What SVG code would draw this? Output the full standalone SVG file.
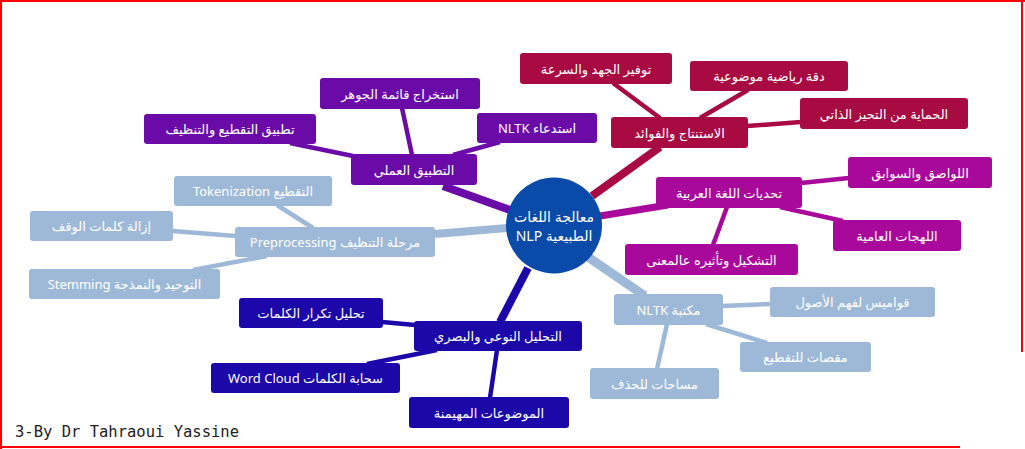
<svg xmlns="http://www.w3.org/2000/svg" width="1025" height="449" viewBox="0 0 1025 449">
<style>
.t{font-family:"Noto Sans","DejaVu Sans",sans-serif;font-size:13px;fill:#ffffff;text-anchor:middle;dominant-baseline:central;direction:rtl;unicode-bidi:embed}
.ct{font-family:"Noto Sans","DejaVu Sans",sans-serif;font-size:14px;fill:#ffffff;text-anchor:middle;dominant-baseline:central;direction:rtl;unicode-bidi:embed}
.pu{fill:#6A0BA8}.cr{fill:#A80A42}.ma{fill:#A9099A}.lb{fill:#9DB9D7}.db{fill:#1C08A8}
.lpu{stroke:#6A0BA8}.lcr{stroke:#A80A42}.lma{stroke:#A9099A}.llb{stroke:#9DB9D7}.ldb{stroke:#1C08A8}
.m{stroke-width:8;stroke-linecap:butt;fill:none}
.c{stroke-width:4.5;stroke-linecap:butt;fill:none}
.foot{font-family:"DejaVu Sans Mono","Liberation Mono",monospace;font-size:15.5px;fill:#222222}
</style>
<rect x="0" y="0" width="1025" height="449" fill="#ffffff"/>
<g id="frame" fill="#ff0000">
<rect x="0" y="0" width="1025" height="2"/>
<rect x="0" y="0" width="2" height="449"/>
<rect x="1021" y="0" width="2" height="352"/>
<rect x="0" y="446" width="960" height="2"/>
</g>
<g id="connectors">
<line class="m lpu" x1="443" y1="186" x2="510" y2="210"/>
<line class="m lcr" x1="592" y1="196" x2="660" y2="147"/>
<line class="m lma" x1="600" y1="216" x2="668" y2="205" style="stroke-width:7"/>
<line class="m llb" x1="588" y1="257" x2="645" y2="296" style="stroke-width:9"/>
<line class="m llb" x1="435" y1="234" x2="507" y2="228"/>
<line class="m ldb" x1="528" y1="268" x2="500" y2="322"/>
<line class="c lpu" x1="412" y1="155" x2="402" y2="108"/>
<line class="c lpu" x1="353" y1="156" x2="290" y2="143"/>
<line class="c lpu" x1="453" y1="155" x2="500" y2="142"/>
<line class="c lcr" x1="660" y1="118" x2="613" y2="83"/>
<line class="c lcr" x1="700" y1="118" x2="748" y2="90"/>
<line class="c lcr" x1="747" y1="126" x2="801" y2="122"/>
<line class="c lma" x1="801" y1="183" x2="849" y2="178"/>
<line class="c lma" x1="780" y1="207" x2="843" y2="221"/>
<line class="c lma" x1="727" y1="207" x2="713" y2="245"/>
<line class="c llb" x1="722" y1="306" x2="771" y2="304"/>
<line class="c llb" x1="706" y1="324" x2="767" y2="343"/>
<line class="c llb" x1="667" y1="324" x2="657" y2="369"/>
<line class="c llb" x1="313" y1="228" x2="277" y2="205"/>
<line class="c llb" x1="172" y1="231" x2="236" y2="236"/>
<line class="c llb" x1="267" y1="256" x2="193" y2="270"/>
<line class="c ldb" x1="382" y1="322" x2="415" y2="325"/>
<line class="c ldb" x1="437" y1="350" x2="367" y2="364"/>
<line class="c ldb" x1="497" y1="350" x2="490" y2="398"/>
</g>
<g id="center">
<circle cx="554" cy="225.5" r="48" fill="#0A4AA8"/>
<text class="ct" x="554" y="216">معالجة اللغات</text>
<text class="ct" x="554" y="235">الطبيعية NLP</text>
</g>
<g id="n-practical"><rect class="pu" x="351" y="154" width="126" height="31" rx="3"/><text class="t" x="414" y="170">التطبيق العملي</text></g>
<g id="n-extract"><rect class="pu" x="320" y="78" width="160" height="31" rx="3"/><text class="t" x="400" y="94">استخراج قائمة الجوهر</text></g>
<g id="n-apply"><rect class="pu" x="144" y="114" width="172" height="30" rx="3"/><text class="t" x="230" y="129">تطبيق التقطيع والتنظيف</text></g>
<g id="n-import"><rect class="pu" x="477" y="113" width="120" height="30" rx="3"/><text class="t" x="537" y="128">استدعاء NLTK</text></g>
<g id="n-conclusion"><rect class="cr" x="611" y="117" width="137" height="31" rx="3"/><text class="t" x="679.5" y="133">الاستنتاج والفوائد</text></g>
<g id="n-effort"><rect class="cr" x="520" y="53" width="152" height="31" rx="3"/><text class="t" x="596" y="69">توفير الجهد والسرعة</text></g>
<g id="n-accuracy"><rect class="cr" x="690" y="61" width="158" height="30" rx="3"/><text class="t" x="769" y="76">دقة رياضية موضوعية</text></g>
<g id="n-bias"><rect class="cr" x="800" y="98" width="168" height="31" rx="3"/><text class="t" x="884" y="114">الحماية من التحيز الذاتي</text></g>
<g id="n-challenges"><rect class="ma" x="656" y="177" width="146" height="31" rx="3"/><text class="t" x="729" y="193">تحديات اللغة العربية</text></g>
<g id="n-affixes"><rect class="ma" x="848" y="157" width="144" height="31" rx="3"/><text class="t" x="920" y="173">اللواصق والسوابق</text></g>
<g id="n-dialects"><rect class="ma" x="833" y="220" width="128" height="31" rx="3"/><text class="t" x="897" y="236">اللهجات العامية</text></g>
<g id="n-diacritics"><rect class="ma" x="625" y="244" width="173" height="31" rx="3"/><text class="t" x="711.5" y="260">التشكيل وتأثيره عالمعنى</text></g>
<g id="n-nltk"><rect class="lb" x="614" y="294" width="109" height="31" rx="3"/><text class="t" x="668.5" y="310">مكتبة NLTK</text></g>
<g id="n-dict"><rect class="lb" x="770" y="287" width="165" height="30" rx="3"/><text class="t" x="852.5" y="302">قواميس لفهم الأصول</text></g>
<g id="n-scissors"><rect class="lb" x="740" y="342" width="131" height="30" rx="3"/><text class="t" x="805.5" y="357">مقصات للتقطيع</text></g>
<g id="n-erasers"><rect class="lb" x="590" y="368" width="129" height="31" rx="3"/><text class="t" x="654.5" y="384">مساحات للحذف</text></g>
<g id="n-preproc"><rect class="lb" x="235" y="227" width="200" height="30" rx="3"/><text class="t" x="335" y="242">مرحلة التنظيف Preprocessing</text></g>
<g id="n-token"><rect class="lb" x="174" y="176" width="158" height="30" rx="3"/><text class="t" x="253" y="191">التقطيع Tokenization</text></g>
<g id="n-stop"><rect class="lb" x="30" y="211" width="143" height="30" rx="3"/><text class="t" x="101.5" y="226">إزالة كلمات الوقف</text></g>
<g id="n-stem"><rect class="lb" x="29" y="269" width="191" height="30" rx="3"/><text class="t" x="124.5" y="284">التوحيد والنمذجة Stemming</text></g>
<g id="n-qual"><rect class="db" x="414" y="321" width="168" height="30" rx="3"/><text class="t" x="498" y="336">التحليل النوعي والبصري</text></g>
<g id="n-freq"><rect class="db" x="239" y="298" width="144" height="30" rx="3"/><text class="t" x="311" y="313">تحليل تكرار الكلمات</text></g>
<g id="n-cloud"><rect class="db" x="211" y="363" width="189" height="30" rx="3"/><text class="t" x="305.5" y="378">سحابة الكلمات Word Cloud</text></g>
<g id="n-topics"><rect class="db" x="409" y="397" width="160" height="31" rx="3"/><text class="t" x="489" y="413">الموضوعات المهيمنة</text></g>
<text class="foot" x="15" y="437">3-By Dr Tahraoui Yassine</text>
</svg>
